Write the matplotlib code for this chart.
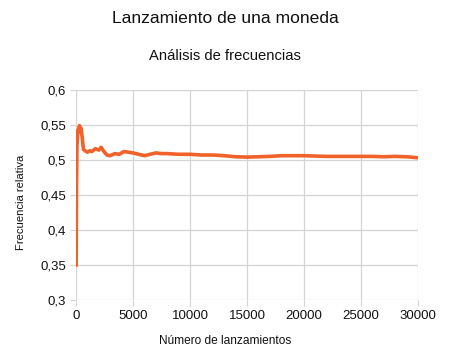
import matplotlib
matplotlib.use("Agg")
import matplotlib.pyplot as plt

title = "Lanzamiento de una moneda"
subtitle = "Análisis de frecuencias"
xlabel = "Número de lanzamientos"
ylabel = "Frecuencia relativa"

lanzamientos = [10, 40, 80, 150, 250, 300, 380, 450, 550, 650, 800, 1000, 1200, 1400,
                1700, 2000, 2200, 2400, 2700, 3000, 3400, 3800, 4200, 4600, 5000, 5500,
                6000, 6500, 7000, 7500, 8000, 9000, 10000, 11000, 12000, 13000, 14000,
                15000, 16000, 17000, 18000, 19000, 20000, 21000, 22000, 23000, 24000,
                25000, 26000, 27000, 28000, 29000, 30000]
frecuencia = [0.35, 0.46, 0.52, 0.542, 0.545, 0.549, 0.54, 0.545, 0.53, 0.515, 0.513,
              0.511, 0.513, 0.512, 0.516, 0.514, 0.518, 0.513, 0.507, 0.506, 0.509,
              0.508, 0.512, 0.511, 0.510, 0.508, 0.506, 0.508, 0.510, 0.509, 0.509,
              0.508, 0.508, 0.507, 0.507, 0.506, 0.5045, 0.504, 0.5045, 0.505, 0.506,
              0.506, 0.506, 0.5055, 0.505, 0.505, 0.505, 0.505, 0.505, 0.5045, 0.505,
              0.5045, 0.503]

yticks = [0.3, 0.35, 0.4, 0.45, 0.5, 0.55, 0.6]
ytick_labels = ["0,3", "0,35", "0,4", "0,45", "0,5", "0,55", "0,6"]
xticks = [0, 5000, 10000, 15000, 20000, 25000, 30000]
xtick_labels = ["0", "5000", "10000", "15000", "20000", "25000", "30000"]

plt.rcParams['font.family'] = ['Liberation Sans', 'DejaVu Sans']

fig = plt.figure(figsize=(4.5, 3.58), dpi=100)
ax = fig.add_axes([0.169, 0.162, 0.76, 0.587])

ax.plot(lanzamientos, frecuencia, color="#f0622a", linewidth=2.6, solid_joinstyle="round")

ax.set_xlim(0, 30000)
ax.set_ylim(0.3, 0.6)
ax.set_xticks(xticks)
ax.set_xticklabels(xtick_labels)
ax.set_yticks(yticks)
ax.set_yticklabels(ytick_labels)
ax.grid(True, color="#d4d4d4", linewidth=0.9)
ax.set_axisbelow(True)
for s in ax.spines.values():
    s.set_visible(False)
ax.tick_params(axis="both", length=4, color="#d4d4d4", labelsize=9.5, pad=3, labelcolor="#111111")

fig.text(0.5, 0.948, title, ha="center", va="center", fontsize=12.6, color="#111111")
fig.text(0.5, 0.843, subtitle, ha="center", va="center", fontsize=10.6, color="#111111")
fig.text(0.5, 0.047, xlabel, ha="center", va="center", fontsize=8.6, color="#111111")
fig.text(0.046, 0.435, ylabel, ha="center", va="center", rotation=90, fontsize=8.1, color="#111111")

fig.savefig("out.png", dpi=100, facecolor="white")
